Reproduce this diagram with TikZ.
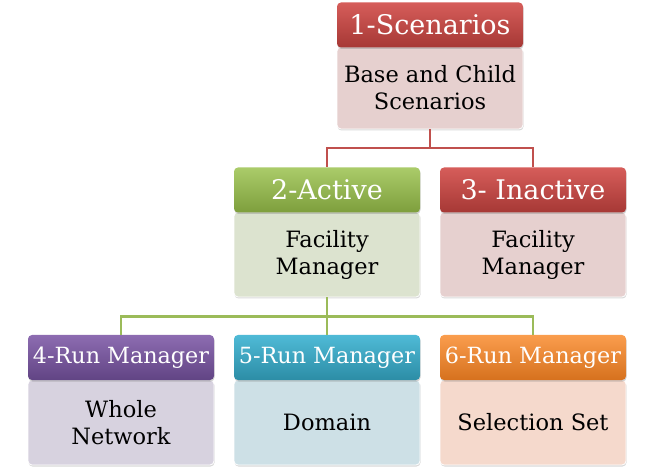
\documentclass[tikz,border=0pt]{standalone}
\usepackage{fontspec}
\setmainfont{DejaVu Serif}
\usetikzlibrary{shadows}

\definecolor{redtop}{HTML}{D65D5A}
\definecolor{redbot}{HTML}{A63835}
\definecolor{redbody}{HTML}{E6D0CF}
\definecolor{greentop}{HTML}{ABCB6A}
\definecolor{greenbot}{HTML}{7E9F3C}
\definecolor{greenbody}{HTML}{DCE3CF}
\definecolor{purpletop}{HTML}{8D6CB1}
\definecolor{purplebot}{HTML}{614484}
\definecolor{purplebody}{HTML}{D7D2DF}
\definecolor{aquatop}{HTML}{4FBAD6}
\definecolor{aquabot}{HTML}{2C8DA6}
\definecolor{aquabody}{HTML}{CDE0E6}
\definecolor{orangetop}{HTML}{FA9D4D}
\definecolor{orangebot}{HTML}{D6711E}
\definecolor{orangebody}{HTML}{F5D9CC}
\definecolor{linkred}{HTML}{C0504D}
\definecolor{linkgreen}{HTML}{9BBB59}

\begin{document}
\begin{tikzpicture}[x=1pt, y=-1pt,
	head/.style={rectangle, rounded corners=4pt, minimum width=186pt, minimum height=45pt, inner sep=0pt, text=white, font=\fontsize{27}{30}\selectfont, drop shadow={opacity=0.35, shadow xshift=0.5pt, shadow yshift=-1.5pt}},
	runhead/.style={head, font=\fontsize{22.3}{26}\selectfont},
	body/.style={rectangle, rounded corners=4pt, minimum width=186pt, minimum height=85pt, inner sep=0pt, align=center, draw=white, line width=0.8pt, font=\fontsize{22.5}{27}\selectfont, drop shadow={opacity=0.3, shadow xshift=0.5pt, shadow yshift=-1.5pt}},
	redhead/.style={head, top color=redtop, bottom color=redbot},
	greenhead/.style={head, top color=greentop, bottom color=greenbot},
	purplehead/.style={runhead, top color=purpletop, bottom color=purplebot},
	aquahead/.style={runhead, top color=aquatop, bottom color=aquabot},
	orangehead/.style={runhead, top color=orangetop, bottom color=orangebot},
	redlink/.style={draw=linkred, line width=2pt},
	greenlink/.style={draw=linkgreen, line width=2.4pt},
	]
	\useasboundingbox (0,0) rectangle (656,470);

	\node (b1)[body, fill=redbody, minimum height=82pt] at (430, 88) {Base and Child\\Scenarios};
	\node (h1)[redhead] at (430, 25) {1-Scenarios};

	\node (b2)[body, fill=greenbody] at (327, 254.5) {Facility\\Manager};
	\node (h2)[greenhead] at (327, 190) {2-Active};
	\node (b3)[body, fill=redbody] at (533, 254.5) {Facility\\Manager};
	\node (h3)[redhead] at (533, 190) {3- Inactive};

	\node (b4)[body, fill=purplebody] at (121, 422.5) {Whole\\Network};
	\node (h4)[purplehead] at (121, 357.5) {4-Run Manager};
	\node (b5)[body, fill=aquabody] at (327, 422.5) {Domain};
	\node (h5)[aquahead] at (327, 357.5) {5-Run Manager};
	\node (b6)[body, fill=orangebody] at (533, 422.5) {Selection Set};
	\node (h6)[orangehead] at (533, 357.5) {6-Run Manager};

	\draw[redlink] (b1.south) -- ++(0,19) -| (h2.north);
	\draw[redlink] (b1.south) -- ++(0,19) -| (h3.north);
	\draw[greenlink] (b2.south) -- ++(0,19) -| (h4.north);
	\draw[greenlink] (b2.south) -- (h5.north);
	\draw[greenlink] (b2.south) -- ++(0,19) -| (h6.north);
\end{tikzpicture}
\end{document}
